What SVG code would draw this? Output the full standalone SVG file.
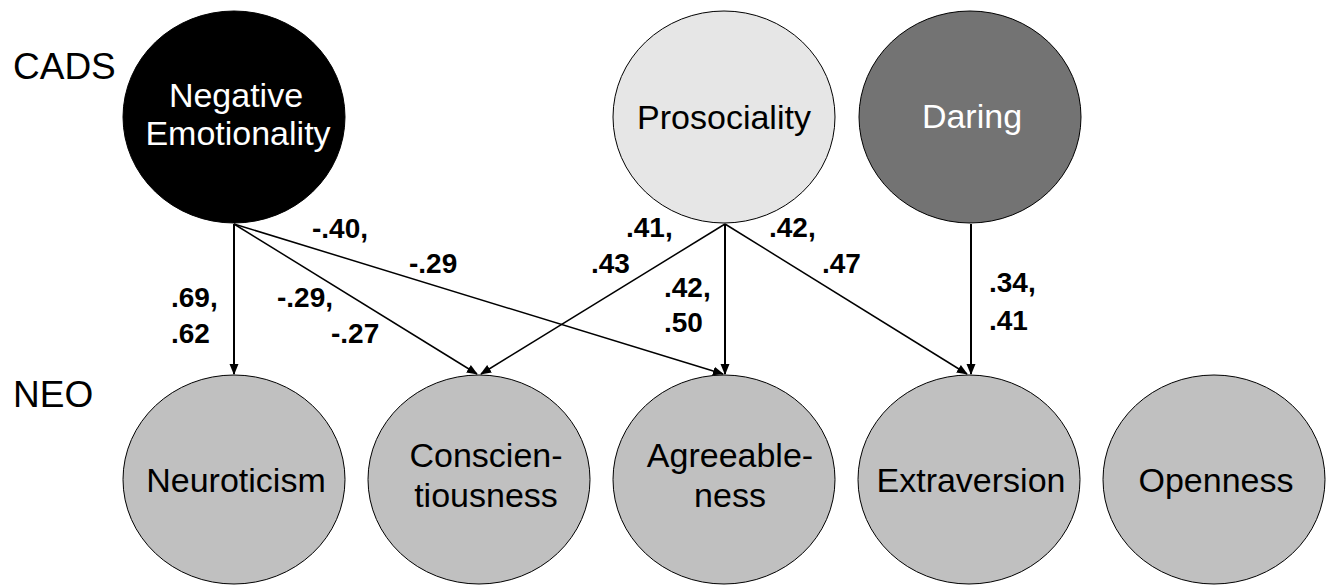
<svg xmlns="http://www.w3.org/2000/svg" width="1337" height="585" viewBox="0 0 1337 585">
<defs>
<marker id="ah" markerWidth="11" markerHeight="11" refX="10" refY="5.5" orient="auto" markerUnits="userSpaceOnUse" viewBox="0 0 11 11">
<path d="M0,1 L11,5.5 L0,10 z" fill="#000"/>
</marker>
</defs>
<style>
.n{stroke:#000;stroke-width:1}
.t{font-family:"Liberation Sans",Arial,sans-serif;font-size:34px;text-anchor:middle}
.h{font-family:"Liberation Sans",Arial,sans-serif;font-size:37px}
.l{font-family:"Liberation Sans",Arial,sans-serif;font-size:28px;font-weight:bold}
.c{stroke:#000;stroke-width:1.5;fill:none;marker-end:url(#ah)}
</style>
<rect width="1337" height="585" fill="#fff"/>
<text class="h" x="13" y="79">CADS</text>
<text class="h" x="13" y="407">NEO</text>
<g id="negemo">
<ellipse class="n" cx="234" cy="117" rx="111" ry="106" fill="#000"/>
<text class="t" x="236" y="107" fill="#fff">Negative</text>
<text class="t" x="238" y="145" fill="#fff">Emotionality</text>
</g>
<g id="prosociality">
<ellipse class="n" cx="724" cy="117" rx="111" ry="106" fill="#e6e6e6"/>
<text class="t" x="724" y="129">Prosociality</text>
</g>
<g id="daring">
<ellipse class="n" cx="970" cy="117" rx="111" ry="106" fill="#737373"/>
<text class="t" x="972" y="128" fill="#fff">Daring</text>
</g>
<g id="neuroticism">
<ellipse class="n" cx="234" cy="479.5" rx="111" ry="104.5" fill="#c0c0c0"/>
<text class="t" x="236" y="492">Neuroticism</text>
</g>
<g id="conscientiousness">
<ellipse class="n" cx="479" cy="479.5" rx="111" ry="104.5" fill="#c0c0c0"/>
<text class="t" x="486" y="467">Conscien-</text>
<text class="t" x="486" y="507">tiousness</text>
</g>
<g id="agreeableness">
<ellipse class="n" cx="724" cy="479.5" rx="111" ry="104.5" fill="#c0c0c0"/>
<text class="t" x="730" y="467">Agreeable-</text>
<text class="t" x="730" y="507">ness</text>
</g>
<g id="extraversion">
<ellipse class="n" cx="969" cy="479.5" rx="111" ry="104.5" fill="#c0c0c0"/>
<text class="t" x="971" y="492">Extraversion</text>
</g>
<g id="openness">
<ellipse class="n" cx="1214" cy="479.5" rx="111" ry="104.5" fill="#c0c0c0"/>
<text class="t" x="1216" y="492">Openness</text>
</g>
<g id="connectors">
<line class="c" x1="234" y1="224" x2="234" y2="374" style="stroke-width:2"/>
<line class="c" x1="234" y1="224" x2="477" y2="374"/>
<line class="c" x1="234" y1="224" x2="723" y2="374"/>
<line class="c" x1="725" y1="224" x2="481" y2="374"/>
<line class="c" x1="725" y1="224" x2="725" y2="374" style="stroke-width:2"/>
<line class="c" x1="725" y1="224" x2="967" y2="374"/>
<line class="c" x1="971" y1="224" x2="971" y2="374" style="stroke-width:2"/>
</g>
<g id="labels">
<text class="l" x="171" y="307">.69,</text>
<text class="l" x="171" y="343">.62</text>
<text class="l" x="277" y="307">-.29,</text>
<text class="l" x="331" y="343">-.27</text>
<text class="l" x="312" y="238">-.40,</text>
<text class="l" x="409" y="273">-.29</text>
<text class="l" x="626" y="237">.41,</text>
<text class="l" x="591" y="273">.43</text>
<text class="l" x="769" y="237">.42,</text>
<text class="l" x="822" y="273">.47</text>
<text class="l" x="664" y="297">.42,</text>
<text class="l" x="664" y="332">.50</text>
<text class="l" x="989" y="292">.34,</text>
<text class="l" x="989" y="330">.41</text>
</g>
</svg>
